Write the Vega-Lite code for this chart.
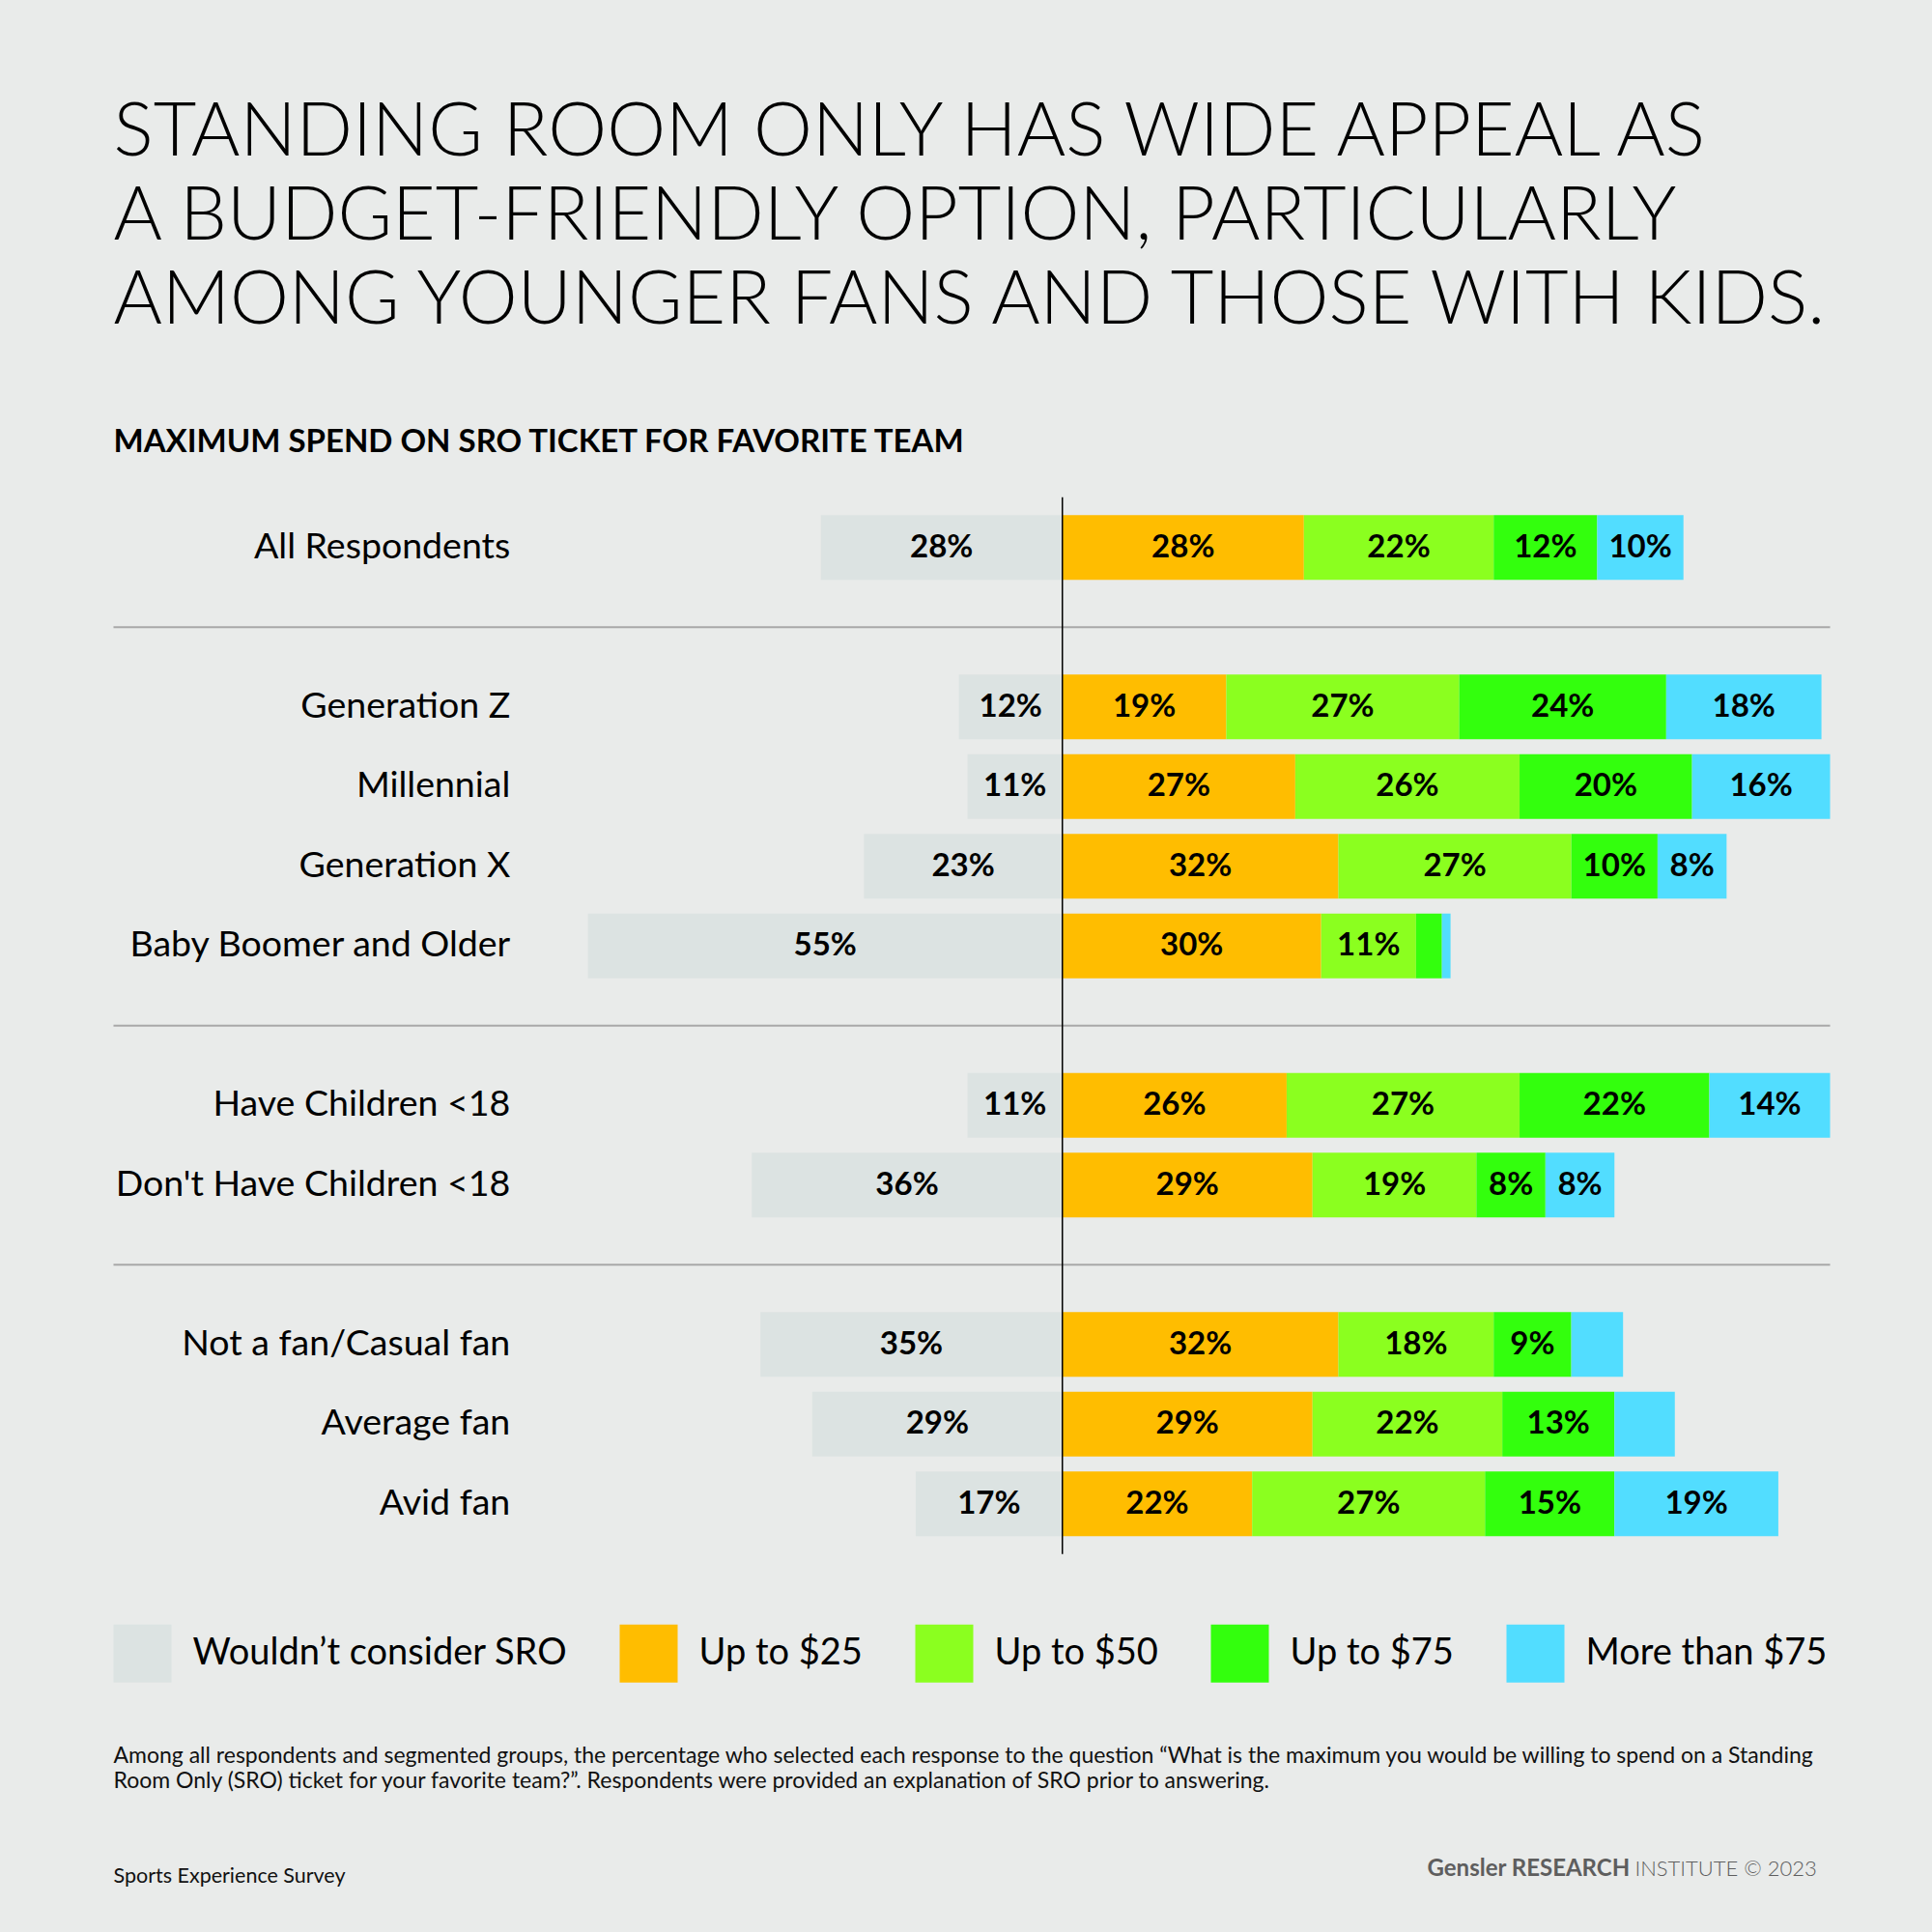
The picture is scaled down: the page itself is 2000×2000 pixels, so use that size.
{
  "$schema": "https://vega.github.io/schema/vega-lite/v6.json",
  "background": "#e9ebea",
  "autosize": {"type": "none"},
  "padding": {"left": 117.5, "top": 514.7, "right": 105.5, "bottom": 391.3},
  "width": 1777,
  "height": 1094,
  "title": {
    "text": ["STANDING ROOM ONLY HAS WIDE APPEAL AS", "A BUDGET-FRIENDLY OPTION, PARTICULARLY", "AMONG YOUNGER FANS AND THOSE WITH KIDS."],
    "subtitle": "MAXIMUM SPEND ON SRO TICKET FOR FAVORITE TEAM",
    "anchor": "start",
    "frame": "group",
    "font": "Lato",
    "fontSize": 77,
    "fontWeight": 300,
    "lineHeight": 87,
    "color": "#000000",
    "subtitleFont": "Lato",
    "subtitleFontSize": 33,
    "subtitleFontWeight": "bold",
    "subtitleColor": "#000000",
    "subtitlePadding": 91,
    "offset": 38
  },
  "datasets": {
    "sro": [
      {"group": "All Respondents", "category": "Wouldn’t consider SRO", "value": 0.28},
      {"group": "All Respondents", "category": "Up to $25", "value": 0.28},
      {"group": "All Respondents", "category": "Up to $50", "value": 0.22},
      {"group": "All Respondents", "category": "Up to $75", "value": 0.12},
      {"group": "All Respondents", "category": "More than $75", "value": 0.10},
      {"group": "Generation Z", "category": "Wouldn’t consider SRO", "value": 0.12},
      {"group": "Generation Z", "category": "Up to $25", "value": 0.19},
      {"group": "Generation Z", "category": "Up to $50", "value": 0.27},
      {"group": "Generation Z", "category": "Up to $75", "value": 0.24},
      {"group": "Generation Z", "category": "More than $75", "value": 0.18},
      {"group": "Millennial", "category": "Wouldn’t consider SRO", "value": 0.11},
      {"group": "Millennial", "category": "Up to $25", "value": 0.27},
      {"group": "Millennial", "category": "Up to $50", "value": 0.26},
      {"group": "Millennial", "category": "Up to $75", "value": 0.20},
      {"group": "Millennial", "category": "More than $75", "value": 0.16},
      {"group": "Generation X", "category": "Wouldn’t consider SRO", "value": 0.23},
      {"group": "Generation X", "category": "Up to $25", "value": 0.32},
      {"group": "Generation X", "category": "Up to $50", "value": 0.27},
      {"group": "Generation X", "category": "Up to $75", "value": 0.10},
      {"group": "Generation X", "category": "More than $75", "value": 0.08},
      {"group": "Baby Boomer and Older", "category": "Wouldn’t consider SRO", "value": 0.55},
      {"group": "Baby Boomer and Older", "category": "Up to $25", "value": 0.30},
      {"group": "Baby Boomer and Older", "category": "Up to $50", "value": 0.11},
      {"group": "Baby Boomer and Older", "category": "Up to $75", "value": 0.03},
      {"group": "Baby Boomer and Older", "category": "More than $75", "value": 0.01},
      {"group": "Have Children <18", "category": "Wouldn’t consider SRO", "value": 0.11},
      {"group": "Have Children <18", "category": "Up to $25", "value": 0.26},
      {"group": "Have Children <18", "category": "Up to $50", "value": 0.27},
      {"group": "Have Children <18", "category": "Up to $75", "value": 0.22},
      {"group": "Have Children <18", "category": "More than $75", "value": 0.14},
      {"group": "Don't Have Children <18", "category": "Wouldn’t consider SRO", "value": 0.36},
      {"group": "Don't Have Children <18", "category": "Up to $25", "value": 0.29},
      {"group": "Don't Have Children <18", "category": "Up to $50", "value": 0.19},
      {"group": "Don't Have Children <18", "category": "Up to $75", "value": 0.08},
      {"group": "Don't Have Children <18", "category": "More than $75", "value": 0.08},
      {"group": "Not a fan/Casual fan", "category": "Wouldn’t consider SRO", "value": 0.35},
      {"group": "Not a fan/Casual fan", "category": "Up to $25", "value": 0.32},
      {"group": "Not a fan/Casual fan", "category": "Up to $50", "value": 0.18},
      {"group": "Not a fan/Casual fan", "category": "Up to $75", "value": 0.09},
      {"group": "Not a fan/Casual fan", "category": "More than $75", "value": 0.06},
      {"group": "Average fan", "category": "Wouldn’t consider SRO", "value": 0.29},
      {"group": "Average fan", "category": "Up to $25", "value": 0.29},
      {"group": "Average fan", "category": "Up to $50", "value": 0.22},
      {"group": "Average fan", "category": "Up to $75", "value": 0.13},
      {"group": "Average fan", "category": "More than $75", "value": 0.07},
      {"group": "Avid fan", "category": "Wouldn’t consider SRO", "value": 0.17},
      {"group": "Avid fan", "category": "Up to $25", "value": 0.22},
      {"group": "Avid fan", "category": "Up to $50", "value": 0.27},
      {"group": "Avid fan", "category": "Up to $75", "value": 0.15},
      {"group": "Avid fan", "category": "More than $75", "value": 0.19}
    ]
  },
  "layer": [
    {
      "data": {"name": "sro"},
      "transform": [{"filter": {"field": "category", "equal": "Wouldn’t consider SRO"}}],
      "layer": [
        {
          "mark": {"type": "bar"},
          "encoding": {
            "y": {
              "field": "group", "type": "nominal",
              "scale": {
                "domain": ["All Respondents", "sep1", "Generation Z", "Millennial", "Generation X", "Baby Boomer and Older", "sep2", "Have Children <18", "Don't Have Children <18", "sep3", "Not a fan/Casual fan", "Average fan", "Avid fan"],
                "paddingInner": 0.188, "paddingOuter": 0.224
              },
              "axis": null
            },
            "x": {
              "field": "value", "type": "quantitative",
              "scale": {"domain": [-0.89, 1.10], "reverse": true, "nice": false, "zero": false},
              "axis": null
            },
            "x2": {"datum": 0},
            "color": {
              "field": "category", "type": "nominal",
              "scale": {
                "domain": ["Wouldn’t consider SRO", "Up to $25", "Up to $50", "Up to $75", "More than $75"],
                "range": ["#dce3e2", "#ffbd00", "#8bff1f", "#33ff0d", "#52ddff"]
              },
              "legend": {
                "orient": "none", "legendX": 0, "legendY": 1167, "direction": "horizontal",
                "symbolType": "square", "symbolSize": 3600, "symbolStrokeWidth": 0,
                "symbolOpacity": 1, "labelFont": "Lato", "labelFontSize": 38, "labelColor": "#000000",
                "labelOffset": 22, "columnPadding": 54, "labelLimit": 0, "padding": 0,
                "title": ["Among all respondents and segmented groups, the percentage who selected each response to the question “What is the maximum you would be willing to spend on a Standing", "Room Only (SRO) ticket for your favorite team?”. Respondents were provided an explanation of SRO prior to answering."],
                "titleOrient": "bottom", "titleAnchor": "start", "titleAlign": "left", "titleBaseline": "top",
                "titlePadding": 65.5, "titleLineHeight": 26, "titleLimit": 2000,
                "titleFont": "Lato", "titleFontSize": 23, "titleFontWeight": "normal", "titleColor": "#111111"
              }
            }
          }
        },
        {
          "transform": [
            {"stack": "value", "groupby": ["group"], "as": ["v0", "v1"]},
            {"fold": ["v0", "v1"], "as": ["k", "pos"]},
            {"aggregate": [{"op": "mean", "field": "pos", "as": "mid"}], "groupby": ["group", "value"]}
          ],
          "mark": {"type": "text", "font": "Lato", "fontSize": 33, "fontWeight": "bold", "color": "#000000", "baseline": "middle"},
          "encoding": {
            "x": {"field": "mid", "type": "quantitative", "axis": null},
            "y": {"field": "group", "type": "nominal", "axis": null},
            "text": {"field": "value", "type": "quantitative", "format": ".0%"}
          }
        }
      ]
    },
    {
      "layer": [
        {
          "data": {"values": [{"group": "sep1"}, {"group": "sep2"}, {"group": "sep3"}]},
          "mark": {"type": "rule", "color": "#a8a8a8", "strokeWidth": 2},
          "encoding": {"y": {"field": "group", "type": "nominal", "axis": null}}
        },
        {
          "data": {"name": "sro"},
          "transform": [
            {"filter": {"not": {"field": "category", "equal": "Wouldn’t consider SRO"}}},
            {"stack": "value", "groupby": ["group"], "as": ["v0", "v1"]}
          ],
          "mark": {"type": "bar"},
          "encoding": {
            "x": {
              "field": "v0", "type": "quantitative",
              "scale": {"domain": [-1.10, 0.89], "nice": false, "zero": false},
              "axis": null
            },
            "x2": {"field": "v1"},
            "y": {"field": "group", "type": "nominal", "axis": null},
            "color": {"field": "category", "type": "nominal"}
          }
        },
        {
          "data": {"name": "sro"},
          "transform": [
            {"filter": {"not": {"field": "category", "equal": "Wouldn’t consider SRO"}}},
            {"stack": "value", "groupby": ["group"], "as": ["v0", "v1"]},
            {"fold": ["v0", "v1"], "as": ["k", "pos"]},
            {"aggregate": [{"op": "mean", "field": "pos", "as": "mid"}], "groupby": ["group", "category", "value"]},
            {"filter": "datum.value >= 0.075"}
          ],
          "mark": {"type": "text", "font": "Lato", "fontSize": 33, "fontWeight": "bold", "color": "#000000", "baseline": "middle"},
          "encoding": {
            "x": {"field": "mid", "type": "quantitative", "axis": null},
            "y": {"field": "group", "type": "nominal", "axis": null},
            "text": {"field": "value", "type": "quantitative", "format": ".0%"}
          }
        },
        {
          "data": {"name": "sro"},
          "transform": [{"filter": {"field": "category", "equal": "Up to $25"}}],
          "mark": {"type": "text", "font": "Lato", "fontSize": 37.5, "color": "#000000", "align": "right", "baseline": "middle"},
          "encoding": {
            "x": {"datum": -0.64, "type": "quantitative", "axis": null},
            "y": {"field": "group", "type": "nominal", "axis": null},
            "text": {"field": "group", "type": "nominal"}
          }
        },
        {
          "data": {"values": [{}]},
          "mark": {"type": "rule", "color": "#000000", "strokeWidth": 1.5},
          "encoding": {"x": {"datum": 0, "type": "quantitative", "axis": null}}
        },
        {
          "data": {"values": [{"credit": "INSTITUTE © 2023"}]},
          "mark": {"type": "point", "opacity": 0},
          "encoding": {
            "shape": {
              "field": "credit", "type": "nominal",
              "legend": {
                "orient": "none", "legendX": 1360, "legendY": 1409.3, "padding": 0,
                "title": "Gensler RESEARCH", "titleOrient": "left", "titlePadding": -18,
                "titleFont": "Lato", "titleFontSize": 24, "titleFontWeight": "bold", "titleColor": "#5e5e5e",
                "titleBaseline": "middle", "titleLimit": 1000,
                "symbolSize": 0, "symbolOpacity": 0, "symbolStrokeWidth": 0,
                "labelOffset": 0, "labelFont": "Lato", "labelFontSize": 22, "labelFontWeight": 300,
                "labelColor": "#5e5e5e", "labelLimit": 0
              }
            }
          }
        },
        {
          "data": {"values": [{"source": "Sports Experience Survey"}]},
          "mark": {"type": "point", "opacity": 0},
          "encoding": {
            "size": {
              "field": "source", "type": "ordinal",
              "legend": {
                "orient": "none", "legendX": 0, "legendY": 1417.7, "padding": 0,
                "title": "Sports Experience Survey", "titleOrient": "top", "titleAnchor": "start", "titleAlign": "left",
                "titleBaseline": "top", "titlePadding": 0, "titleLimit": 1000,
                "titleFont": "Lato", "titleFontSize": 21.5, "titleFontWeight": "normal", "titleColor": "#111111",
                "symbolOpacity": 0, "symbolStrokeWidth": 0, "labelOpacity": 0
              }
            }
          }
        }
      ]
    }
  ],
  "resolve": {"scale": {"x": "independent"}},
  "config": {
    "view": {"stroke": null},
    "font": "Lato"
  }
}
